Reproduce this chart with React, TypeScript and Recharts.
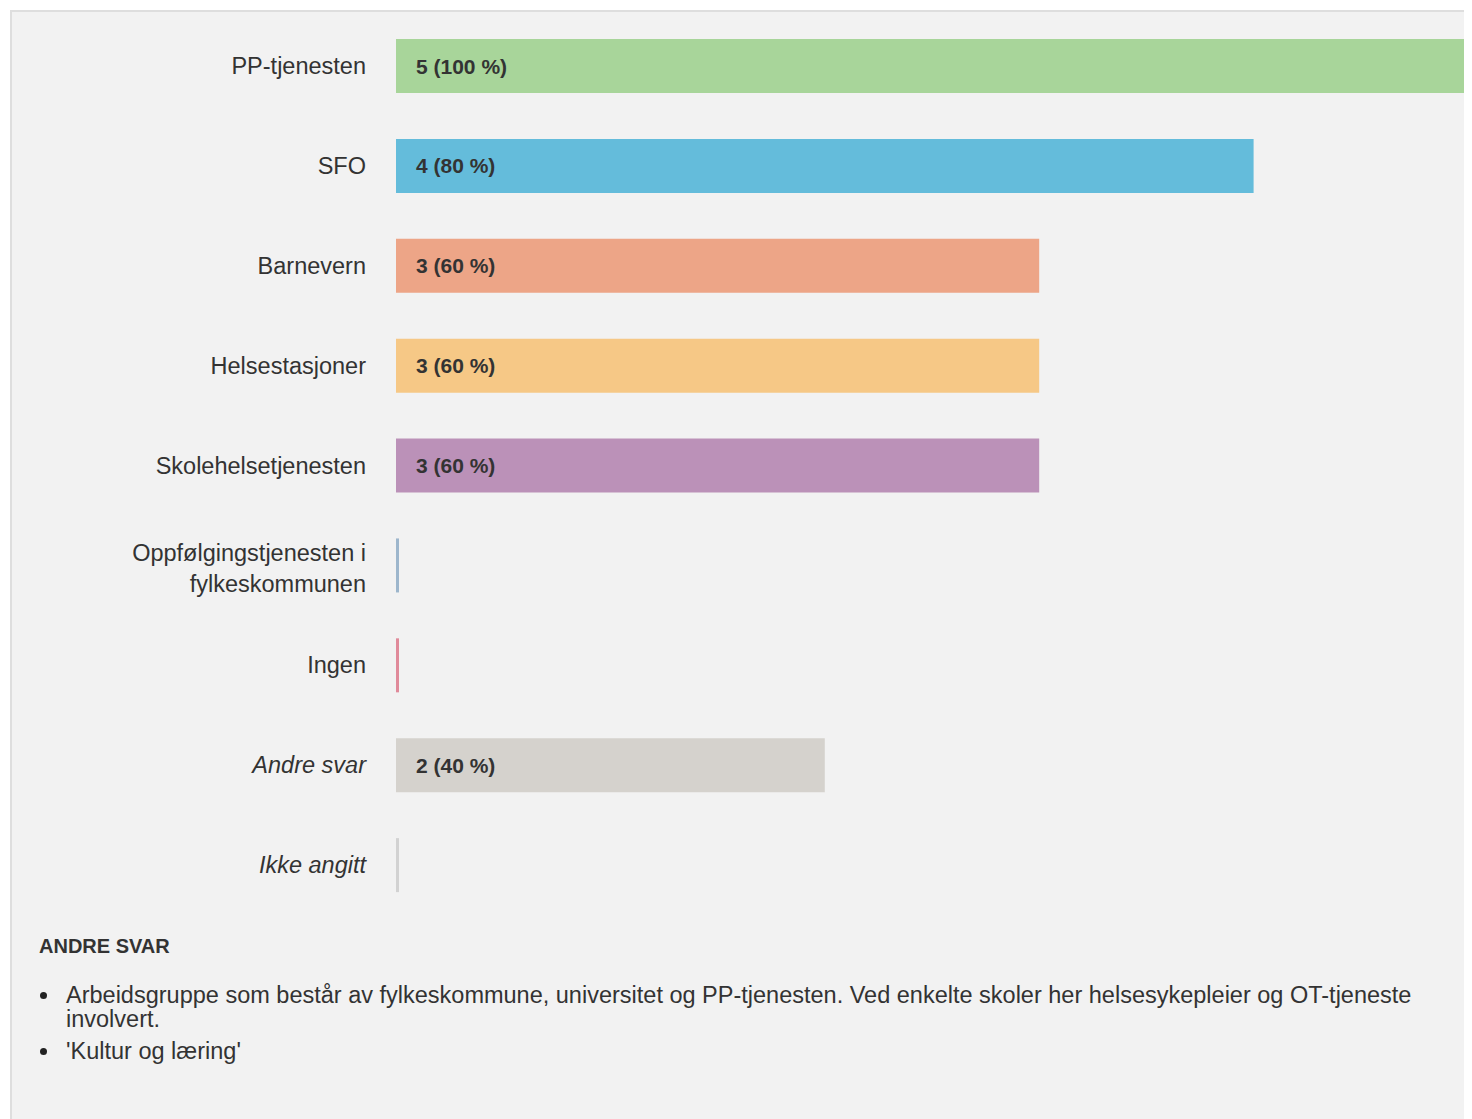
import { BarChart, Bar, XAxis, YAxis, Cell, LabelList } from 'recharts';

const categories = [
  'PP-tjenesten',
  'SFO',
  'Barnevern',
  'Helsestasjoner',
  'Skolehelsetjenesten',
  'Oppfølgingstjenesten i fylkeskommunen',
  'Ingen',
  'Andre svar',
  'Ikke angitt',
];
const counts = [5, 4, 3, 3, 3, 0, 0, 2, 0];
const totalRespondents = 5;
const barColors = ['#a8d59a', '#64bcdb', '#eda587', '#f6c886', '#bb91b8', '#9db6cc', '#e08a9a', '#d5d2cd', '#d2d2d2'];
const italicCategories = ['Andre svar', 'Ikke angitt'];
const otherAnswers = [
  'Arbeidsgruppe som består av fylkeskommune, universitet og PP-tjenesten. Ved enkelte skoler her helsesykepleier og OT-tjeneste involvert.',
  "'Kultur og læring'",
];

const FONT = '"Liberation Sans", Arial, sans-serif';
const TEXT = '#333333';

const data = categories.map((name, i) => ({ name, count: counts[i] }));

// simple word wrap for long category names
const wrap = (text: string, max: number) => {
  const lines: string[] = [];
  let cur = '';
  text.split(' ').forEach((w) => {
    const next = cur ? cur + ' ' + w : w;
    if (next.length > max && cur) {
      lines.push(cur);
      cur = w;
    } else cur = next;
  });
  if (cur) lines.push(cur);
  return lines;
};

const CategoryTick = ({ x, y, payload }: any) => {
  const lines = wrap(payload.value, 22);
  const italic = italicCategories.includes(payload.value);
  const start = -((lines.length - 1) * 31) / 2 + (lines.length > 1 ? 3 : 0);
  return (
    <text
      x={x}
      y={y}
      textAnchor="end"
      fill={TEXT}
      fontSize={23.5}
      fontFamily={FONT}
      fontStyle={italic ? 'italic' : 'normal'}
    >
      {lines.map((l, i) => (
        <tspan key={i} x={x} dy={i === 0 ? start : 31} dominantBaseline="central">
          {l}
        </tspan>
      ))}
    </text>
  );
};

const CountLabel = ({ x, y, height, value }: any) => {
  if (!value) return null;
  const pct = Math.round((value / totalRespondents) * 100);
  return (
    <text
      x={x + 20}
      y={y + height / 2}
      dominantBaseline="central"
      fill={TEXT}
      fontSize={21}
      fontWeight="bold"
      fontFamily={FONT}
    >
      {`${value} (${pct} %)`}
    </text>
  );
};

export default function App() {
  return (
    <div style={{ padding: '2px 0 0 2px' }}>
      <div
        style={{
          position: 'relative',
          boxSizing: 'border-box',
          width: 1462,
          height: 1109,
          background: '#f2f2f2',
          borderTop: '2px solid #dedede',
          borderLeft: '2px solid #dedede',
          fontFamily: FONT,
          color: TEXT,
          overflow: 'hidden',
        }}
      >
        <BarChart
          width={1456}
          height={903}
          data={data}
          layout="vertical"
          margin={{ top: 4, right: 0, bottom: 0, left: 0 }}
        >
          <XAxis type="number" domain={[0, totalRespondents]} hide />
          <YAxis
            type="category"
            dataKey="name"
            width={384}
            axisLine={false}
            tickLine={false}
            tickSize={0}
            tickMargin={30}
            tick={<CategoryTick />}
            interval={0}
          />
          <Bar dataKey="count" barSize={54} minPointSize={3} isAnimationActive={false}>
            {data.map((d, i) => (
              <Cell key={d.name} fill={barColors[i]} />
            ))}
            <LabelList dataKey="count" content={<CountLabel />} />
          </Bar>
        </BarChart>
        <div style={{ position: 'absolute', left: 27, top: 922 }}>
          <div style={{ fontWeight: 'bold', fontSize: 20, lineHeight: '24px' }}>ANDRE SVAR</div>
          <ul style={{ listStyle: 'none', margin: '25px 0 0 0', padding: '0 0 0 27px', width: 1380 }}>
            {otherAnswers.map((a) => (
              <li key={a} style={{ position: 'relative', fontSize: 23.5, lineHeight: '24px', marginBottom: 8 }}>
                <span
                  style={{
                    position: 'absolute',
                    left: -26,
                    top: 9,
                    width: 7,
                    height: 7,
                    borderRadius: 4,
                    background: '#222',
                  }}
                />
                {a}
              </li>
            ))}
          </ul>
        </div>
      </div>
    </div>
  );
}
